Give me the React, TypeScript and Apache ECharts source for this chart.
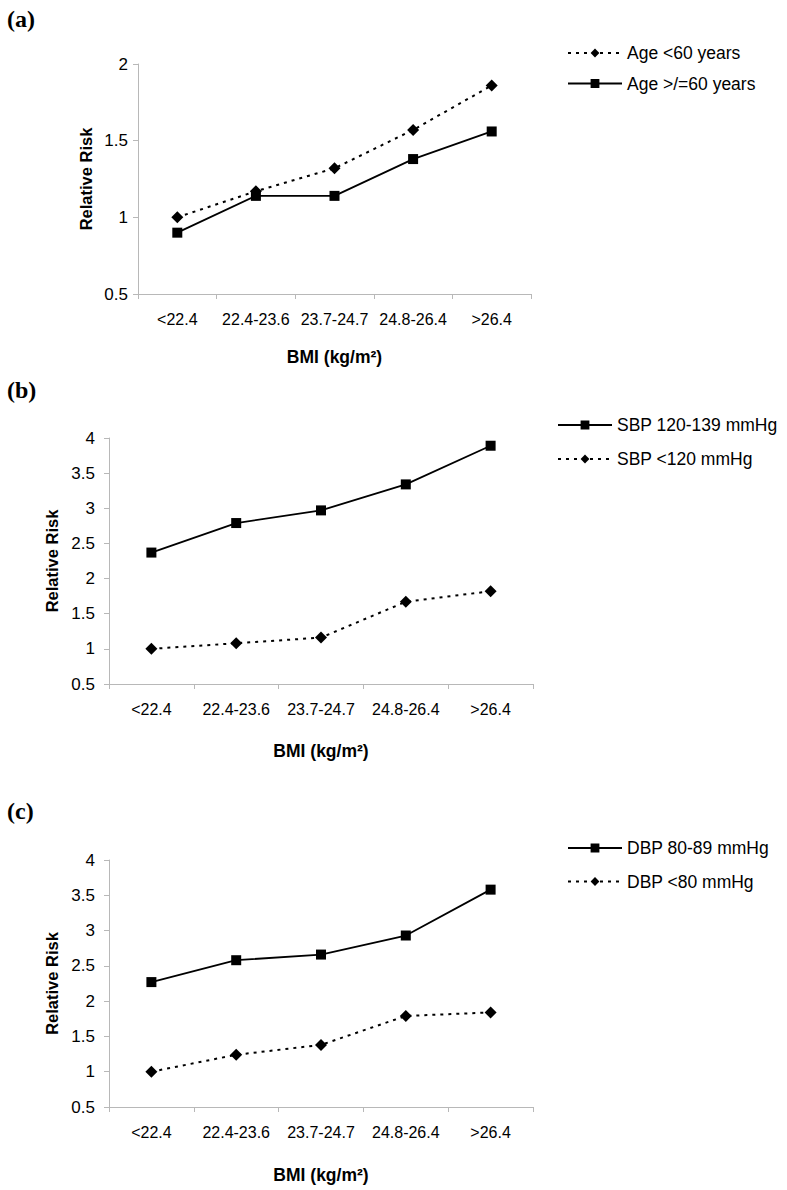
import React, { useEffect, useRef } from "react";
import * as echarts from "echarts";

const categories = ["<22.4", "22.4-23.6", "23.7-24.7", "24.8-26.4", ">26.4"];
const panelLabels = ["(a)", "(b)", "(c)"];

const ageUnder60 = [1.0, 1.17, 1.32, 1.57, 1.86];
const ageOver60 = [0.9, 1.14, 1.14, 1.38, 1.56];
const sbp120to139 = [2.37, 2.79, 2.97, 3.34, 3.89];
const sbpUnder120 = [1.0, 1.08, 1.16, 1.67, 1.82];
const dbp80to89 = [2.27, 2.58, 2.66, 2.93, 3.58];
const dbpUnder80 = [1.0, 1.24, 1.38, 1.79, 1.84];

const yMaxA = 2;
const yMaxBC = 4;
const yMin = 0.5;
const yStep = 0.5;

const FONT = "Liberation Sans";
const AXIS_GREY = "#b8b8b8";

const grids = [
  { left: 138, top: 64, width: 393, height: 230 },
  { left: 109, top: 438, width: 424, height: 246 },
  { left: 109, top: 860, width: 424, height: 247 },
];

function xAxisFor(i: number, nameGap: number) {
  return {
    type: "category",
    gridIndex: i,
    data: categories,
    boundaryGap: true,
    axisLine: { lineStyle: { color: AXIS_GREY, width: 1 } },
    axisTick: { show: true, length: 5, interval: 0, lineStyle: { color: AXIS_GREY } },
    axisLabel: { color: "#000", fontFamily: FONT, fontSize: 16, margin: 17, interval: 0 },
    splitLine: { show: false },
    name: "BMI (kg/m²)",
    nameLocation: "middle",
    nameGap,
    nameTextStyle: { color: "#000", fontFamily: FONT, fontSize: 17.5, fontWeight: "bold" },
  };
}

function yAxisFor(i: number, max: number, labelMargin: number, nameGap: number) {
  return {
    type: "value",
    gridIndex: i,
    min: yMin,
    max,
    interval: yStep,
    axisLine: { show: true, lineStyle: { color: AXIS_GREY, width: 1 } },
    axisTick: { show: true, length: 5, lineStyle: { color: AXIS_GREY } },
    axisLabel: { color: "#000", fontFamily: FONT, fontSize: 17, margin: labelMargin },
    splitLine: { show: false },
    name: "Relative Risk",
    nameLocation: "middle",
    nameGap,
    nameRotate: 90,
    nameTextStyle: { color: "#000", fontFamily: FONT, fontSize: 16.5, fontWeight: "bold" },
  };
}

function lineSeries(name: string, data: number[], idx: number, dotted: boolean) {
  return {
    type: "line",
    name,
    xAxisIndex: idx,
    yAxisIndex: idx,
    data,
    symbol: dotted ? "diamond" : "rect",
    symbolSize: dotted ? 12 : 10,
    itemStyle: { color: "#000" },
    lineStyle: { color: "#000", width: dotted ? 2 : 1.8, type: dotted ? [3, 5] : "solid" },
    showSymbol: true,
  };
}

function legendFor(names: string[], left: number, top: number, itemGap: number) {
  return {
    orient: "vertical",
    left,
    top,
    data: names,
    itemWidth: 54,
    itemHeight: 11,
    itemGap,
    padding: 0,
    selectedMode: false,
    textStyle: { color: "#000", fontFamily: FONT, fontSize: 17.5, padding: [0, 0, 0, 0] },
  };
}

export default function App() {
  const ref = useRef<HTMLDivElement>(null);

  useEffect(() => {
    if (!ref.current) return;
    const chart = echarts.init(ref.current, null, { renderer: "svg" });
    const option: any = {
      animation: false,
      backgroundColor: "#fff",
      title: panelLabels.map((t, i) => ({
        text: t,
        left: 7,
        top: [7, 378, 799][i],
        padding: 0,
        textStyle: { fontFamily: "Liberation Serif", fontWeight: "bold", fontSize: 24, color: "#000" },
      })),
      grid: grids.map((g) => ({ ...g, containLabel: false, outerBoundsMode: "none" })),
      xAxis: [xAxisFor(0, 54), xAxisFor(1, 58), xAxisFor(2, 59)],
      yAxis: [yAxisFor(0, yMaxA, 10, 44), yAxisFor(1, yMaxBC, 14, 49), yAxisFor(2, yMaxBC, 14, 49)],
      legend: [
        legendFor(["Age <60 years", "Age >/=60 years"], 567, 44, 12.5),
        legendFor(["SBP 120-139 mmHg", "SBP <120 mmHg"], 557, 416, 16),
        legendFor(["DBP 80-89 mmHg", "DBP <80 mmHg"], 567, 839, 15.5),
      ],
      series: [
        lineSeries("Age <60 years", ageUnder60, 0, true),
        lineSeries("Age >/=60 years", ageOver60, 0, false),
        lineSeries("SBP 120-139 mmHg", sbp120to139, 1, false),
        lineSeries("SBP <120 mmHg", sbpUnder120, 1, true),
        lineSeries("DBP 80-89 mmHg", dbp80to89, 2, false),
        lineSeries("DBP <80 mmHg", dbpUnder80, 2, true),
      ],
    };
    chart.setOption(option);
    return () => chart.dispose();
  }, []);

  return (
    <div
      ref={ref}
      style={{ position: "absolute", left: 0, top: 0, width: 787, height: 1190, background: "#fff" }}
    />
  );
}
